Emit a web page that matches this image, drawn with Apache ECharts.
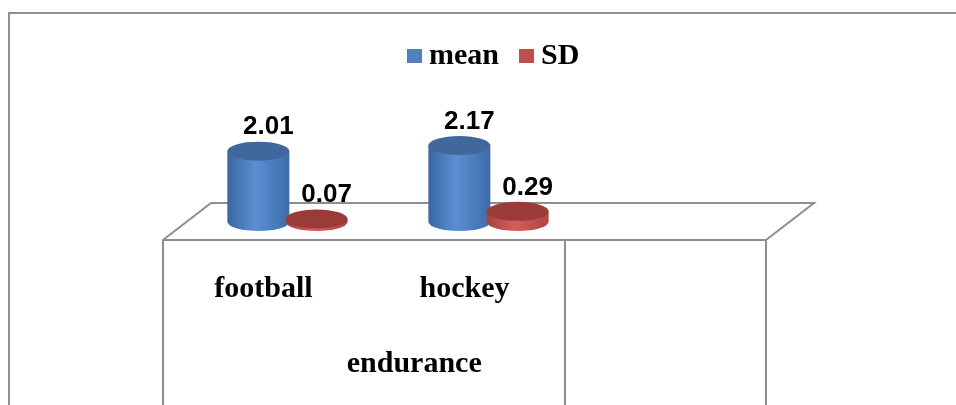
<!DOCTYPE html>
<html>
<head>
<meta charset="utf-8">
<script src="https://cdn.jsdelivr.net/npm/echarts@6/dist/echarts.min.js"></script>
<style>
  html, body { margin: 0; padding: 0; background: #ffffff; }
  #chart { width: 956px; height: 405px; }
</style>
</head>
<body>
<div id="chart"></div>
<script>
// Categories along the floor (third slot left empty) and the group that spans them
const categories = ['football', 'hockey', ''];
const groupNames = ['endurance'];
const seriesNames = ['mean', 'SD'];
const meanValues = [2.01, 2.17];
const sdValues = [0.07, 0.29];

// Perspective of the floor: how far the back edge sits from the front edge
const DEPTH_X = 48;
const DEPTH_Y = -37;
const FRAME = '#8e8e8e';
const SERIF = '"Liberation Serif", "Times New Roman", serif';

const chart = echarts.init(document.getElementById('chart'), null, { renderer: 'canvas' });

function cylinderRenderer(offsetRatio, palette) {
  return function (params, api) {
    const cat = api.value(0);
    const v = api.value(1);
    const base = api.coord([cat, 0]);
    const top = api.coord([cat, v]);
    const band = api.size([1, 0])[0];
    const cx = base[0] + band * offsetRatio + DEPTH_X / 2;
    const by = base[1] + DEPTH_Y / 2;
    const ty = top[1] + DEPTH_Y / 2;
    const rx = 31, ry = 9.5;
    const l = cx - rx, r = cx + rx;
    const bodyFill = new echarts.graphic.LinearGradient(0, 0, 1, 0, [
      { offset: 0, color: palette.edge },
      { offset: 0.45, color: palette.light },
      { offset: 1, color: palette.edge2 }
    ]);
    return {
      type: 'group',
      children: [
        {
          type: 'path',
          shape: {
            pathData: 'M' + l + ',' + ty + ' L' + l + ',' + by +
              ' A' + rx + ',' + ry + ' 0 0 0 ' + r + ',' + by +
              ' L' + r + ',' + ty + ' Z'
          },
          style: { fill: bodyFill, stroke: null }
        },
        {
          type: 'path',
          shape: {
            pathData: 'M' + l + ',' + ty +
              ' A' + rx + ',' + ry + ' 0 1 0 ' + r + ',' + ty +
              ' A' + rx + ',' + ry + ' 0 1 0 ' + l + ',' + ty + ' Z'
          },
          style: { fill: palette.top, stroke: null }
        },
        {
          type: 'text',
          x: cx + 10,
          y: ty - 24,
          style: {
            text: v.toFixed(2),
            fill: '#000000',
            font: 'bold 26px "Liberation Sans", Arial, sans-serif',
            align: 'center',
            verticalAlign: 'middle'
          }
        }
      ]
    };
  };
}

function floorRenderer(params, api) {
  const cs = params.coordSys;
  const fy = cs.y + cs.height;
  return {
    type: 'polyline',
    shape: {
      points: [
        [cs.x, fy],
        [cs.x + DEPTH_X, fy + DEPTH_Y],
        [cs.x + cs.width + DEPTH_X, fy + DEPTH_Y],
        [cs.x + cs.width, fy]
      ]
    },
    style: { stroke: FRAME, lineWidth: 2, fill: null },
    silent: true
  };
}

const bluePalette = { edge: '#3a66a2', light: '#5b8fd2', edge2: '#3d6cab', top: '#41689d' };
const redPalette = { edge: '#a8403d', light: '#d35f5b', edge2: '#b04542', top: '#9b3b38' };

chart.setOption({
  backgroundColor: '#ffffff',
  animation: false,
  graphic: [{
    type: 'rect',
    shape: { x: 9, y: 13, width: 1000, height: 500 },
    style: { fill: null, stroke: FRAME, lineWidth: 2 },
    silent: true,
    z: -10
  }],
  legend: {
    data: seriesNames,
    left: 402,
    top: 36,
    itemWidth: 15,
    itemHeight: 14,
    itemGap: 20,
    icon: 'rect',
    textStyle: { fontFamily: SERIF, fontWeight: 'bold', fontSize: 30, color: '#000000', padding: [0, 0, 0, 2] }
  },
  grid: { left: 163, right: 190, top: 65, bottom: 165, containLabel: false },
  xAxis: [
    {
      type: 'category',
      data: categories,
      boundaryGap: true,
      axisLine: { show: true, lineStyle: { color: FRAME, width: 2 } },
      axisTick: { show: false },
      splitLine: { show: false },
      axisLabel: {
        interval: 0,
        margin: 34,
        fontFamily: SERIF,
        fontWeight: 'bold',
        fontSize: 30,
        color: '#000000'
      }
    },
    {
      type: 'value',
      min: 0,
      max: categories.length,
      position: 'bottom',
      axisLine: { show: false },
      splitLine: { show: false },
      axisTick: {
        show: true,
        customValues: [0, 2, 3],
        length: 170,
        lineStyle: { color: FRAME, width: 2 }
      },
      axisLabel: {
        customValues: [1.25],
        margin: 109,
        formatter: function () { return groupNames[0]; },
        fontFamily: SERIF,
        fontWeight: 'bold',
        fontSize: 30,
        color: '#000000'
      }
    }
  ],
  yAxis: {
    type: 'value',
    min: 0,
    max: 5,
    show: false
  },
  series: [
    {
      name: 'floor',
      type: 'custom',
      renderItem: floorRenderer,
      data: [[0, 0]],
      silent: true,
      z: 1
    },
    {
      name: seriesNames[0],
      type: 'custom',
      itemStyle: { color: '#4f81bd' },
      renderItem: cylinderRenderer(-0.145, bluePalette),
      data: meanValues.map(function (v, i) { return [i, v]; }),
      z: 2
    },
    {
      name: seriesNames[1],
      type: 'custom',
      itemStyle: { color: '#c0504d' },
      renderItem: cylinderRenderer(0.145, redPalette),
      data: sdValues.map(function (v, i) { return [i, v]; }),
      z: 3
    }
  ]
});
</script>
</body>
</html>
